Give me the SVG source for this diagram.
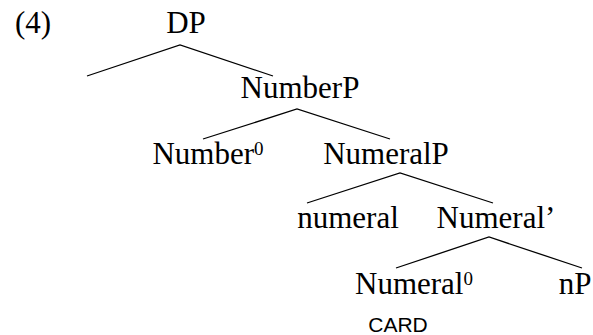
<svg xmlns="http://www.w3.org/2000/svg" width="593" height="335" viewBox="0 0 593 335">
  <style>
    .lbl { font-family: "Liberation Serif", "DejaVu Serif", serif; font-size: 31px; fill: #000; text-anchor: middle; }
    .sup { font-size: 19px; }
    .feat { font-family: "Liberation Sans", "Open Sans", sans-serif; font-size: 21px; fill: #000; text-anchor: middle; }
    .edge { fill: none; stroke: #000; stroke-width: 1.3; stroke-linejoin: miter; }
  </style>
  <rect width="593" height="335" fill="#fff"/>

  <!-- example number -->
  <text class="lbl" x="33" y="33">(4)</text>

  <!-- tree branches -->
  <g id="connectors">
    <polyline class="edge" points="87,76 180,45 273,76"/>
    <polyline class="edge" points="203,139 297,109 390,139"/>
    <polyline class="edge" points="307,203 400,173 493,203"/>
    <polyline class="edge" points="396,268 489,237 582,268"/>
  </g>

  <g id="DP"><text class="lbl" x="186" y="33">DP</text></g>
  <g id="NumberP"><text class="lbl" x="300" y="98">NumberP</text></g>
  <g id="Number0"><text class="lbl" x="208" y="164">Number<tspan class="sup" dy="-9">0</tspan></text></g>
  <g id="NumeralP"><text class="lbl" x="386" y="164">NumeralP</text></g>
  <g id="numeral"><text class="lbl" x="348" y="228">numeral</text></g>
  <g id="NumeralBar"><text class="lbl" x="496" y="228">Numeral’</text></g>
  <g id="Numeral0">
    <text class="lbl" x="414" y="294">Numeral<tspan class="sup" dy="-9">0</tspan></text>
    <text class="feat" x="398" y="332">CARD</text>
  </g>
  <g id="nP"><text class="lbl" x="575" y="294">nP</text></g>
</svg>
